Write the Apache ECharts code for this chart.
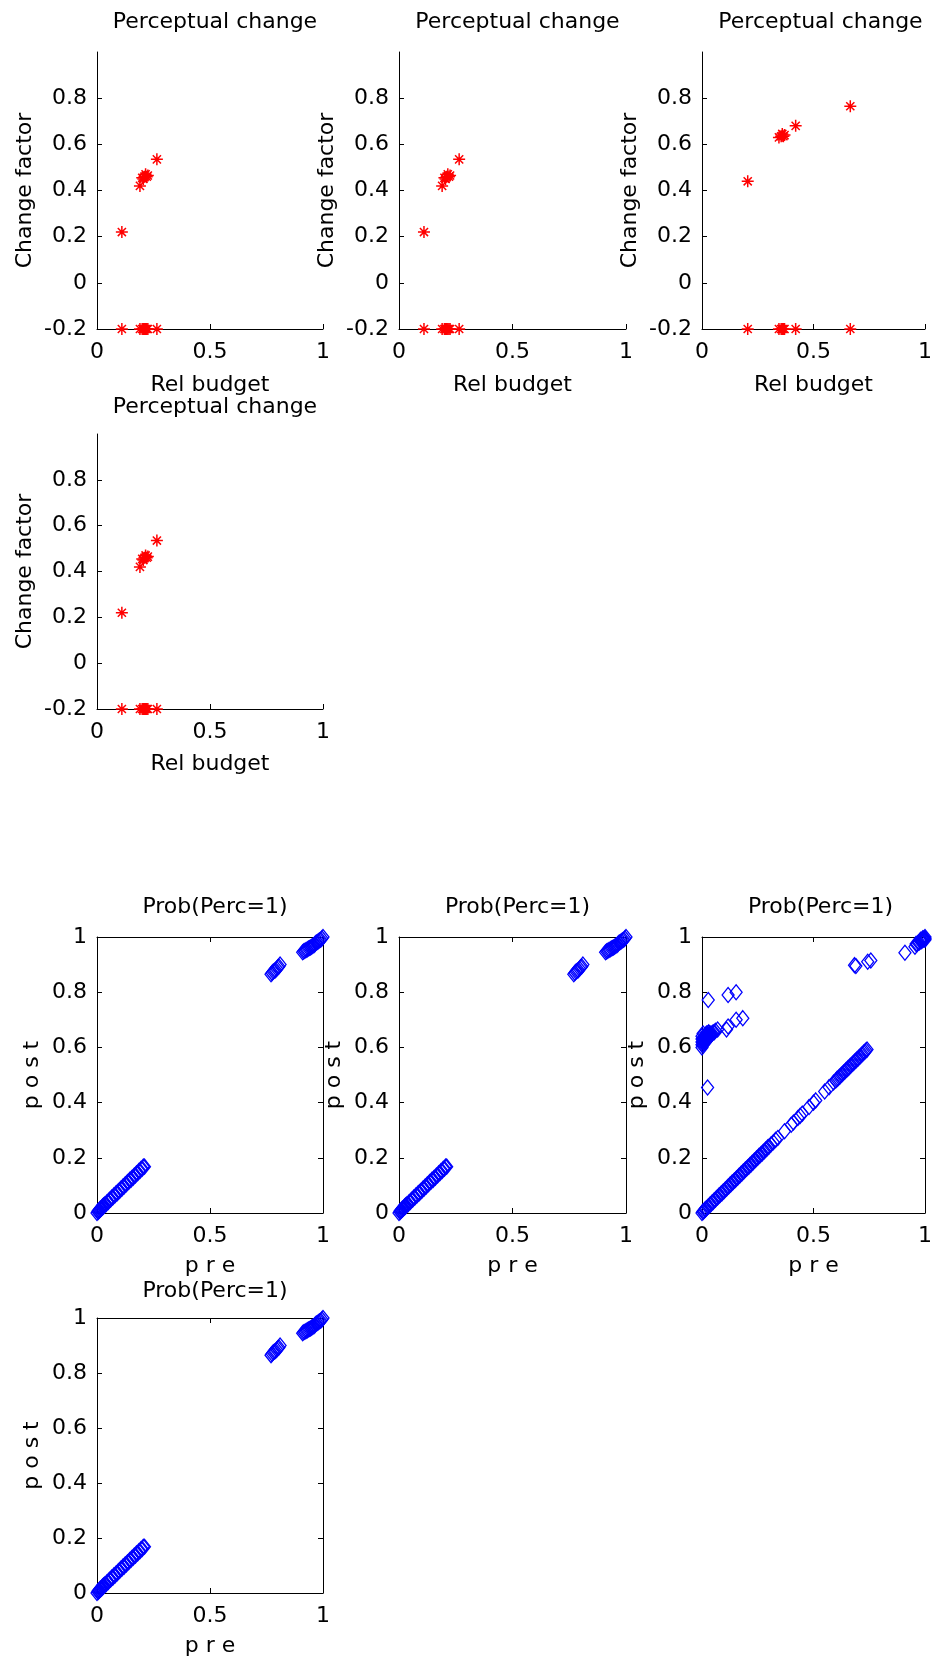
<!DOCTYPE html>
<html>
<head>
<meta charset="utf-8">
<script src="https://cdn.jsdelivr.net/npm/echarts@6/dist/echarts.min.js"></script>
<style>
html,body{margin:0;padding:0;background:#fff;}
#chart{width:935px;height:1664px;}
</style>
</head>
<body>
<div id="chart"></div>
<script>
// ---------- data ----------
// "Perceptual change" panels 1, 2 and 4 (same data)
var relBudgetA    = [0.11, 0.19, 0.20, 0.205, 0.21, 0.215, 0.22, 0.225, 0.265,
                     0.11, 0.19, 0.20, 0.205, 0.21, 0.215, 0.22, 0.225, 0.265];
var changeFactorA = [0.22, 0.42, 0.455, 0.45, 0.46, 0.47, 0.46, 0.465, 0.535,
                     -0.2, -0.2, -0.2, -0.2, -0.2, -0.2, -0.2, -0.2, -0.2];
// "Perceptual change" panel 3
var relBudgetB    = [0.205, 0.345, 0.355, 0.36, 0.365, 0.37, 0.42, 0.665,
                     0.205, 0.345, 0.355, 0.36, 0.365, 0.37, 0.42, 0.665];
var changeFactorB = [0.44, 0.63, 0.635, 0.645, 0.635, 0.64, 0.68, 0.765,
                     -0.2, -0.2, -0.2, -0.2, -0.2, -0.2, -0.2, -0.2];

// "Prob(Perc=1)" panels 5, 6 and 8 (same data)
var probPreA  = [0, 0.005, 0.01, 0.015, 0.02, 0.025, 0.03, 0.04, 0.05, 0.06, 0.07, 0.08, 0.09, 0.1,
                 0.11, 0.12, 0.13, 0.14, 0.15, 0.16, 0.17, 0.18, 0.19, 0.2, 0.21,
                 0.005, 0.01, 0.015, 0.02, 0.025, 0.03, 0.035, 0.045, 0.055, 0.065, 0.075, 0.085,
                 0.095, 0.105, 0.115, 0.125, 0.135, 0.145, 0.155, 0.165, 0.175, 0.185, 0.195, 0.205,
                 0.77, 0.78, 0.79, 0.80, 0.81, 0.775, 0.785, 0.795, 0.805,
                 0.91, 0.92, 0.93, 0.94, 0.95, 0.96, 0.97, 0.98, 0.99, 1.0,
                 0.915, 0.925, 0.935, 0.945, 0.955, 0.965, 0.975, 0.985, 0.995];
var probPostA = [0, 0.004, 0.008, 0.012, 0.016, 0.02, 0.025, 0.032, 0.04, 0.048, 0.056, 0.064, 0.072, 0.08,
                 0.088, 0.096, 0.104, 0.112, 0.12, 0.128, 0.136, 0.144, 0.152, 0.16, 0.168,
                 0.007, 0.011, 0.016, 0.019, 0.024, 0.028, 0.032, 0.04, 0.048, 0.056, 0.064, 0.072,
                 0.08, 0.088, 0.096, 0.104, 0.112, 0.12, 0.128, 0.136, 0.144, 0.152, 0.16, 0.168,
                 0.865, 0.875, 0.88, 0.89, 0.9, 0.87, 0.878, 0.885, 0.893,
                 0.945, 0.95, 0.955, 0.96, 0.965, 0.97, 0.98, 0.985, 0.99, 1.0,
                 0.948, 0.953, 0.958, 0.962, 0.968, 0.975, 0.982, 0.988, 0.995];
// "Prob(Perc=1)" panel 7
var probPreB  = [0, 0.005, 0.01, 0.015, 0.02, 0.03, 0.04, 0.05, 0.06, 0.07, 0.08, 0.09, 0.1,
                 0.11, 0.12, 0.13, 0.14, 0.15, 0.16, 0.17, 0.18, 0.19, 0.2, 0.21, 0.22, 0.23,
                 0.24, 0.25, 0.26, 0.27, 0.28, 0.29, 0.3, 0.32, 0.34, 0.37, 0.4, 0.41, 0.44,
                 0.45, 0.48, 0.5, 0.51, 0.55, 0.57, 0.6, 0.61, 0.62, 0.63, 0.64, 0.65, 0.66,
                 0.67, 0.68, 0.69, 0.7, 0.71, 0.72, 0.73, 0.74,
                 0.005, 0.015, 0.025, 0.035, 0.045, 0.055, 0.065, 0.075, 0.085, 0.095, 0.105,
                 0.115, 0.125, 0.135, 0.145, 0.155, 0.165, 0.175, 0.185, 0.195, 0.205, 0.215,
                 0.225, 0.235, 0.245, 0.255, 0.265, 0.275, 0.285, 0.295, 0.31, 0.33,
                 0.43, 0.59, 0.605, 0.615, 0.625, 0.635, 0.645, 0.655,
                 0.665, 0.675, 0.685, 0.695, 0.705, 0.715, 0.725, 0.735,
                 0, 0, 0.005, 0.01, 0.01, 0.015, 0.02, 0.02, 0.025, 0.03, 0.035, 0.04, 0.05,
                 0.06, 0.07, 0.11, 0.117, 0.153, 0.183,
                 0, 0, 0, 0.005, 0.005, 0.005, 0.01, 0.015, 0.015, 0.02, 0.025, 0.025, 0.03,
                 0.03, 0.035, 0.04, 0.045, 0.055,
                 0.028, 0.117, 0.153, 0.025,
                 0.684, 0.69, 0.743, 0.757, 0.91,
                 0.96, 0.97, 0.98, 0.985, 0.99, 0.995, 1.0,
                 0.955, 0.965, 0.975, 0.985, 0.99, 0.995, 1.0, 1.0, 0.98];
var probPostB = [0, 0.004, 0.008, 0.012, 0.016, 0.024, 0.032, 0.04, 0.048, 0.056, 0.064, 0.072, 0.08,
                 0.088, 0.096, 0.104, 0.112, 0.12, 0.128, 0.136, 0.144, 0.152, 0.16, 0.168, 0.176, 0.184,
                 0.192, 0.2, 0.208, 0.216, 0.224, 0.232, 0.24, 0.256, 0.272, 0.296, 0.32, 0.328, 0.352,
                 0.36, 0.384, 0.4, 0.408, 0.44, 0.456, 0.48, 0.488, 0.496, 0.504, 0.512, 0.52, 0.528,
                 0.536, 0.544, 0.552, 0.56, 0.568, 0.576, 0.584, 0.592,
                 0.006, 0.014, 0.022, 0.03, 0.038, 0.046, 0.054, 0.062, 0.07, 0.078, 0.086,
                 0.094, 0.102, 0.11, 0.118, 0.126, 0.134, 0.142, 0.15, 0.158, 0.166, 0.174,
                 0.182, 0.19, 0.198, 0.206, 0.214, 0.222, 0.23, 0.238, 0.249, 0.265,
                 0.344, 0.473, 0.485, 0.493, 0.501, 0.509, 0.517, 0.525,
                 0.533, 0.541, 0.549, 0.557, 0.565, 0.573, 0.581, 0.589,
                 0.61, 0.63, 0.62, 0.64, 0.62, 0.63, 0.65, 0.63, 0.64, 0.645, 0.65, 0.65, 0.655,
                 0.66, 0.665, 0.665, 0.676, 0.70, 0.706,
                 0.6, 0.62, 0.64, 0.61, 0.63, 0.65, 0.63, 0.62, 0.645, 0.64, 0.63, 0.65, 0.635,
                 0.655, 0.64, 0.645, 0.65, 0.655,
                 0.772, 0.79, 0.80, 0.455,
                 0.898, 0.895, 0.91, 0.915, 0.943,
                 0.975, 0.98, 0.985, 0.99, 0.99, 0.995, 1.0,
                 0.965, 0.975, 0.98, 0.985, 0.995, 0.99, 0.995, 0.99, 0.99];

var relTicksX = [0, 0.5, 1];
var relTicksY = [-0.2, 0, 0.2, 0.4, 0.6, 0.8];
var probTicksX = [0, 0.5, 1];
var probTicksY = [0, 0.2, 0.4, 0.6, 0.8, 1];

var topTitle = 'Perceptual change';
var topXName = 'Rel budget';
var topYName = 'Change factor';
var botTitle = 'Prob(Perc=1)';
var botXName = 'p r e';
var botYName = 'p o s t';

// ---------- layout ----------
var FONT = 'DejaVu Sans';
var FS = 22;
var panels = [
  {kind:'rel', left:97,  top:52,   width:226, height:277, data:'A', tOff:46, xGap:45},
  {kind:'rel', left:399, top:52,   width:227, height:277, data:'A', tOff:46, xGap:45},
  {kind:'rel', left:702, top:52,   width:227, height:277, data:'B', tOff:46, xGap:45},
  {kind:'rel', left:97,  top:434,  width:226, height:275, data:'A', tOff:43, xGap:44},
  {kind:'prob', left:97,  top:937,  width:226, height:276, data:'A', tOff:46, xGap:42},
  {kind:'prob', left:399, top:937,  width:227, height:276, data:'A', tOff:46, xGap:42},
  {kind:'prob', left:702, top:937,  width:227, height:276, data:'B', tOff:46, xGap:42},
  {kind:'prob', left:97,  top:1318, width:226, height:275, data:'A', tOff:43, xGap:42}
];

function zip(a, b) { var r = []; for (var i = 0; i < a.length; i++) r.push([a[i], b[i]]); return r; }

var txt = {color:'#000', fontFamily:FONT, fontSize:FS};
var asterisk = 'path://M5,0L5,10M0,5L10,5M1.6,1.6L8.4,8.4M8.4,1.6L1.6,8.4';

var grids = [], xAxes = [], yAxes = [], series = [], titles = [];
panels.forEach(function (p, gi) {
  var isRel = p.kind === 'rel';
  grids.push({left:p.left, top:p.top, width:p.width, height:p.height, containLabel:false});
  titles.push({
    text: isRel ? topTitle : botTitle,
    left: p.left + p.width / 2, textAlign:'center',
    top: p.top - p.tOff,
    textStyle: {color:'#000', fontFamily:FONT, fontSize:FS, fontWeight:'normal'}
  });
  var tickStyle = {show:true, inside:true, length:5, lineStyle:{color:'#000', width:1}};
  var lineStyle = {show:true, onZero:false, lineStyle:{color:'#000', width:1}};
  var xi = xAxes.length, yi = yAxes.length;
  xAxes.push({
    gridIndex:gi, type:'value', min:0, max:1, interval:0.5, position:'bottom',
    axisLine:lineStyle,
    axisTick:Object.assign({customValues:isRel ? relTicksX : probTicksX}, tickStyle),
    axisLabel:Object.assign({margin:12, customValues:isRel ? relTicksX : probTicksX}, txt),
    splitLine:{show:false},
    name: isRel ? topXName : botXName, nameLocation:'middle', nameGap:p.xGap,
    nameTextStyle: txt
  });
  yAxes.push({
    gridIndex:gi, type:'value', min:isRel ? -0.2 : 0, max:1, interval:0.2, position:'left',
    axisLine:lineStyle,
    axisTick:Object.assign({customValues:isRel ? relTicksY : probTicksY}, tickStyle),
    axisLabel:Object.assign({margin:10, customValues:isRel ? relTicksY : probTicksY}, txt),
    splitLine:{show:false},
    name: isRel ? topYName : botYName, nameLocation:'middle', nameGap: isRel ? 61 : 54,
    nameTextStyle: txt
  });
  if (!isRel) {
    xAxes.push({
      gridIndex:gi, type:'value', min:0, max:1, interval:0.5, position:'top',
      axisLine:lineStyle, axisTick:Object.assign({customValues:probTicksX}, tickStyle),
      axisLabel:{show:false}, splitLine:{show:false}
    });
    yAxes.push({
      gridIndex:gi, type:'value', min:0, max:1, interval:0.2, position:'right',
      axisLine:lineStyle, axisTick:Object.assign({customValues:probTicksY}, tickStyle),
      axisLabel:{show:false}, splitLine:{show:false}
    });
  }
  var data;
  if (isRel) data = p.data === 'A' ? zip(relBudgetA, changeFactorA) : zip(relBudgetB, changeFactorB);
  else data = p.data === 'A' ? zip(probPreA, probPostA) : zip(probPreB, probPostB);
  series.push(isRel ? {
    type:'scatter', xAxisIndex:xi, yAxisIndex:yi, data:data,
    symbol:asterisk, symbolSize:12, clip:false,
    itemStyle:{color:'#ff0000', borderColor:'#ff0000', borderWidth:1.5, opacity:1},
    emphasis:{disabled:true}
  } : {
    type:'scatter', xAxisIndex:xi, yAxisIndex:yi, data:data,
    symbol:'diamond', symbolSize:[12, 15], clip:false,
    itemStyle:{color:'rgba(0,0,0,0)', borderColor:'#0000ff', borderWidth:1.3, opacity:1},
    emphasis:{disabled:true}
  });
});

var chart = echarts.init(document.getElementById('chart'), null, {renderer:'canvas'});
chart.setOption({
  backgroundColor:'#ffffff',
  animation:false,
  title:titles,
  grid:grids,
  xAxis:xAxes,
  yAxis:yAxes,
  series:series
});
</script>
</body>
</html>
